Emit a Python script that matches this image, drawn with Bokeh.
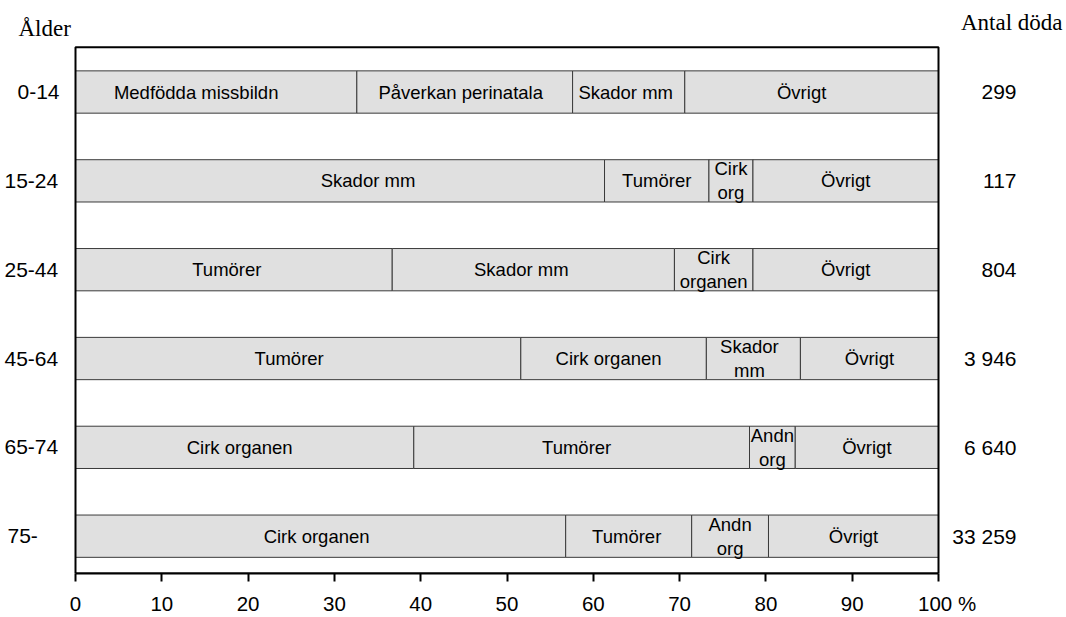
import numpy as np
from bokeh.plotting import figure
from bokeh.models import Range1d, Label, FixedTicker, ColumnDataSource
from bokeh.core.properties import value
from bokeh.embed import file_html
from bokeh.resources import INLINE

# ---------------- data ----------------
ages = ["0-14", "15-24", "25-44", "45-64", "65-74", "75-"]
totals = ["299", "117", "804", "3 946", "6 640", "33 259"]

labels_0_14 = ["Medfödda missbildn", "Påverkan perinatala", "Skador mm", "Övrigt"]
shares_0_14 = [32.6, 25.0, 13.0, 29.4]
labels_15_24 = ["Skador mm", "Tumörer", "Cirk\norg", "Övrigt"]
shares_15_24 = [61.3, 12.1, 5.1, 21.5]
labels_25_44 = ["Tumörer", "Skador mm", "Cirk\norganen", "Övrigt"]
shares_25_44 = [36.7, 32.7, 9.1, 21.5]
labels_45_64 = ["Tumörer", "Cirk organen", "Skador\nmm", "Övrigt"]
shares_45_64 = [51.6, 21.5, 10.9, 16.0]
labels_65_74 = ["Cirk organen", "Tumörer", "Andn\norg", "Övrigt"]
shares_65_74 = [39.2, 38.9, 5.3, 16.6]
labels_75 = ["Cirk organen", "Tumörer", "Andn\norg", "Övrigt"]
shares_75 = [56.8, 14.6, 8.9, 19.7]

x_ticks = [0, 10, 20, 30, 40, 50, 60, 70, 80, 90, 100]
x_tick_labels = ["0", "10", "20", "30", "40", "50", "60", "70", "80", "90", "\u00a0\u00a0\u00a0100\u00a0%"]

rows_labels = [labels_0_14, labels_15_24, labels_25_44, labels_45_64, labels_65_74, labels_75]
rows_shares = [shares_0_14, shares_15_24, shares_25_44, shares_45_64, shares_65_74, shares_75]

# label nudges in screen px (style only)
label_nudge_px = [
    [-20, -4, -3, -10],
    [28, 0, 0, 0],
    [-7, -12, 0, 0],
    [-9, -5, -4, 0],
    [-5, -5, 0, 0],
    [-4, -2, 0, 0],
]

SANS = "Liberation Sans"
SERIF = "Liberation Serif"

W, H = 1066, 617
PX_X = 8.63      # px per percent unit
X0_PX = 75       # pixel of 0 %
PX_Y = 89.3      # px per row unit
Y_BOT = -0.42
Y_TOP_BOX = 5.504
BOTTOM_BORDER = 41

# ---------------- build table ----------------
ys, lefts, rights, texts, mids = [], [], [], [], []
n = len(ages)
for i, (labs, shs) in enumerate(zip(rows_labels, rows_shares)):
    y = n - 1 - i
    edges = np.concatenate([[0.0], np.cumsum(shs)])
    for j, lab in enumerate(labs):
        ys.append(y)
        lefts.append(edges[j])
        rights.append(edges[j + 1])
        mids.append((edges[j] + edges[j + 1]) / 2 + label_nudge_px[i][j] / PX_X)
        texts.append(lab)
src = ColumnDataSource(dict(y=ys, left=lefts, right=rights, mid=mids, text=texts))

x_start = -X0_PX / PX_X
x_end = (W - X0_PX) / PX_X
y_end = Y_BOT + (H - BOTTOM_BORDER) / PX_Y

p = figure(width=W, height=H, output_backend="svg", toolbar_location=None,
           x_range=Range1d(x_start, x_end), y_range=Range1d(Y_BOT, y_end),
           min_border_left=0, min_border_right=0, min_border_top=0, min_border_bottom=BOTTOM_BORDER)
p.grid.visible = False
p.yaxis.visible = False
p.outline_line_color = None
p.background_fill_color = "white"
p.border_fill_color = "white"

p.hbar(y="y", left="left", right="right", height=0.476, source=src,
       fill_color="#e0e0e0", line_color="#3a3a3a", line_width=1)
p.text(x="mid", y="y", text="text", source=src, text_align="center", text_baseline="middle",
       text_font=value(SANS), text_font_size="18.5px", text_color="black", text_line_height=1.15)

# chart box (0..100 %)
p.quad(left=x_ticks[0], right=x_ticks[-1], bottom=Y_BOT, top=Y_TOP_BOX,
       fill_color=None, line_color="black", line_width=2)

ax = p.xaxis[0]
ax.ticker = FixedTicker(ticks=x_ticks)
ax.bounds = (x_ticks[0], x_ticks[-1])
ax.major_label_overrides = {t: s for t, s in zip(x_ticks, x_tick_labels)}
ax.minor_tick_line_color = None
ax.major_tick_out = 8
ax.major_tick_in = 0
ax.major_tick_line_width = 2
ax.major_tick_line_color = "black"
ax.axis_line_width = 2
ax.axis_line_color = "black"
ax.major_label_standoff = 10
ax.major_label_text_font = SANS
ax.major_label_text_font_size = "20.5px"
ax.major_label_text_color = "black"

def xd(px):
    return (px - X0_PX) / PX_X

def yd(py):
    return Y_TOP_BOX - (py - 47) / PX_Y

left_label_px = [17, 4, 4, 4, 4, 7]
for i, (age, lx) in enumerate(zip(ages, left_label_px)):
    p.add_layout(Label(x=xd(lx), y=n - 1 - i, text=age, text_align="left", text_baseline="middle",
                       text_font=SANS, text_font_size="21px", text_color="black"))
for i, t in enumerate(totals):
    p.add_layout(Label(x=xd(1016), y=n - 1 - i, text=t, text_align="right", text_baseline="middle",
                       text_font=SANS, text_font_size="21px", text_color="black"))

p.add_layout(Label(x=xd(18), y=yd(28), text="Ålder", text_align="left", text_baseline="middle",
                   text_font=SERIF, text_font_size="23px", text_color="black"))
p.add_layout(Label(x=xd(1062), y=yd(22), text="Antal döda", text_align="right", text_baseline="middle",
                   text_font=SERIF, text_font_size="23px", text_color="black"))

open("out.html", "w").write(file_html(p, INLINE))
